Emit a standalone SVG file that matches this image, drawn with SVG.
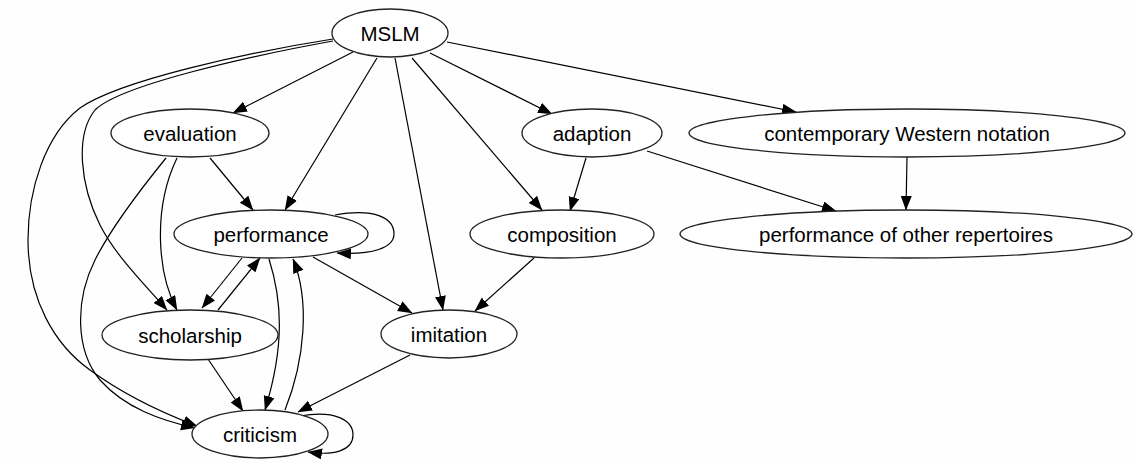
<svg xmlns="http://www.w3.org/2000/svg" width="1135" height="463" viewBox="0 0 1135 463">
<style>
.node ellipse{fill:#ffffff;stroke:#222;stroke-width:1.3}
.node text{font-family:"Liberation Sans",Arial,sans-serif;font-size:20.5px;fill:#000;text-anchor:middle}
.edges path{fill:none;stroke:#000;stroke-width:1.2;marker-end:url(#arr)}
</style>
<defs>
<marker id="arr" markerUnits="userSpaceOnUse" markerWidth="16" markerHeight="12" refX="14" refY="5.5" orient="auto">
<path d="M0,0 L14.5,5.5 L0,11 z" fill="#000"/>
</marker>
</defs>
<rect width="1135" height="463" fill="#fdfefd"/>
<g class="edges" id="edges">
<path d="M353,52 L233,113"/>
<path d="M430,53 L552,114"/>
<path d="M447,42 L796,112"/>
<path d="M377,58 L285,210"/>
<path d="M395,58 L443,310"/>
<path d="M412,58 L542,210"/>
<path d="M333,41 C250,56 120,85 95,110 C75,135 80,185 100,225 C115,255 145,285 167,310"/>
<path d="M333,39 C250,52 120,80 80,108 C45,135 28,190 28,240 C28,300 55,345 90,370 C120,392 160,412 197,426"/>
<path d="M210,158 L253,210"/>
<path d="M177,158 C152,210 158,275 177,310"/>
<path d="M166,158 C140,190 110,230 95,260 C75,300 75,350 100,380 C125,408 160,420 195,428"/>
<path d="M335,215 C375,208 394,218 394,234 C394,248 372,255 337,253"/>
<path d="M242,258 L202,308"/>
<path d="M218,310 L260,258"/>
<path d="M269,259 C282,300 285,345 265,410"/>
<path d="M285,410 C305,360 310,300 293,259"/>
<path d="M313,257 L412,313"/>
<path d="M208,359 L243,411"/>
<path d="M410,355 L298,412"/>
<path d="M300,416 C335,410 353,420 353,435 C353,450 335,456 308,452"/>
<path d="M534,258 L475,311"/>
<path d="M586,158 L570,211"/>
<path d="M647,151 L836,211"/>
<path d="M907,157 L906,210"/>
</g>
<g class="node" id="MSLM"><ellipse cx="390" cy="33" rx="58" ry="24"/><text x="390" y="41">MSLM</text></g>
<g class="node" id="evaluation"><ellipse cx="190" cy="133" rx="79" ry="24"/><text x="190" y="140.5">evaluation</text></g>
<g class="node" id="adaption"><ellipse cx="592" cy="133" rx="70" ry="24"/><text x="592" y="140.5">adaption</text></g>
<g class="node" id="contemporary"><ellipse cx="907" cy="133" rx="218" ry="24"/><text x="907" y="140.5">contemporary Western notation</text></g>
<g class="node" id="performance"><ellipse cx="271" cy="234" rx="97" ry="24"/><text x="271" y="241.5">performance</text></g>
<g class="node" id="composition"><ellipse cx="562" cy="234" rx="92" ry="24"/><text x="562" y="241.5">composition</text></g>
<g class="node" id="performance_other"><ellipse cx="906" cy="234" rx="226" ry="24"/><text x="906" y="241.5">performance of other repertoires</text></g>
<g class="node" id="scholarship"><ellipse cx="190" cy="335" rx="88" ry="25"/><text x="190" y="342.5">scholarship</text></g>
<g class="node" id="imitation"><ellipse cx="449" cy="334" rx="68" ry="24"/><text x="449" y="341.5">imitation</text></g>
<g class="node" id="criticism"><ellipse cx="260" cy="434" rx="68" ry="24"/><text x="260" y="441.5">criticism</text></g>
</svg>
